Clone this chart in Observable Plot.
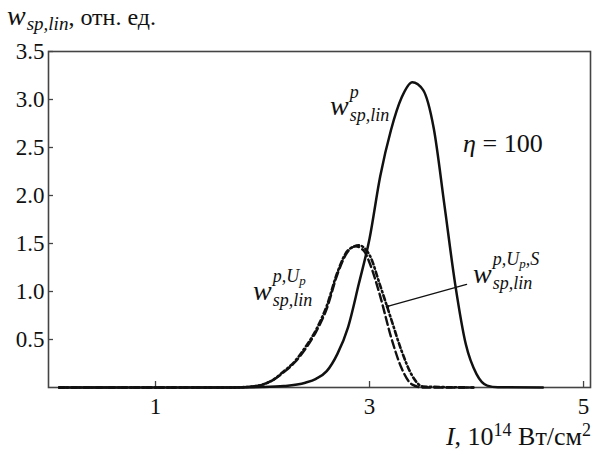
<!DOCTYPE html>
<html>
<head>
<meta charset="utf-8">
<script src="https://cdn.jsdelivr.net/npm/d3@7"></script>
<script src="https://cdn.jsdelivr.net/npm/@observablehq/plot@0.6"></script>
<style>
  html, body { margin: 0; padding: 0; background: #fff; }
  #chart svg { display: block; }
  #chart svg, #chart svg text, #chart svg tspan {
    font-family: "Liberation Serif", "Times New Roman", Tinos, "DejaVu Serif", "Noto Serif", FreeSerif, serif !important;
  }
</style>
</head>
<body>
<div id="chart"></div>
<script>
// Data (I in 10^14 W/cm^2, w in relative units)
const I_p   = [0.1, 1.5, 1.8, 2.0, 2.2, 2.4, 2.5, 2.6, 2.7, 2.8, 2.9, 3.0, 3.1, 3.2, 3.3, 3.4, 3.5, 3.6, 3.7, 3.8, 3.9, 4.0, 4.1, 4.2, 4.62];
const W_p   = [0, 0, 0.001, 0.004, 0.015, 0.05, 0.09, 0.17, 0.35, 0.63, 1.08, 1.55, 2.2, 2.68, 3.02, 3.18, 3.1, 2.7, 1.9, 1.08, 0.45, 0.14, 0.02, 0.003, 0];

const I_up  = [0.1, 1.7, 1.9, 2.0, 2.1, 2.2, 2.3, 2.4, 2.5, 2.6, 2.7, 2.8, 2.87, 2.95, 3.0, 3.1, 3.2, 3.3, 3.4, 3.5, 3.97];
const W_up  = [0, 0, 0.01, 0.03, 0.08, 0.16, 0.26, 0.4, 0.58, 0.82, 1.18, 1.42, 1.47, 1.42, 1.3, 0.95, 0.53, 0.2, 0.03, 0, 0];

const I_ups = [0.1, 1.7, 1.9, 2.0, 2.1, 2.2, 2.3, 2.4, 2.5, 2.6, 2.7, 2.8, 2.9, 3.0, 3.1, 3.2, 3.3, 3.4, 3.5, 3.97];
const W_ups = [0, 0, 0.01, 0.03, 0.08, 0.17, 0.27, 0.42, 0.6, 0.85, 1.2, 1.43, 1.48, 1.38, 1.06, 0.72, 0.38, 0.12, 0.01, 0];

const xTicks = [1, 3, 5];
const yTicks = [0.5, 1.0, 1.5, 2.0, 2.5, 3.0, 3.5];

// leader line for the w^{p,Up,S} label
const leaderI = [3.168, 3.907];
const leaderW = [0.844, 1.073];

const toRows = (xs, ys) => xs.map((x, i) => ({x, y: ys[i]}));
const solid = toRows(I_p, W_p);
const dashed = toRows(I_up, W_up);
const dotted = toRows(I_ups, W_ups);
const leader = toRows(leaderI, leaderW);

const FONT = "'Liberation Serif', 'Times New Roman', Tinos, 'DejaVu Serif', 'Noto Serif', FreeSerif, serif";

const plot = Plot.plot({
  width: 593,
  height: 457,
  marginLeft: 48,
  marginRight: 3,
  marginTop: 51,
  marginBottom: 70,
  style: {fontFamily: FONT, fontSize: "23px", color: "#111", background: "#fff"},
  x: {domain: [0, 5.065]},
  y: {domain: [0, 3.5]},
  marks: [
    Plot.axisX({ticks: xTicks, tickSize: 0, tickPadding: 10, tickFormat: d => String(d), label: null, fontSize: 23}),
    Plot.axisX({ticks: xTicks, tickSize: -6, text: null, label: null, stroke: "#444", strokeWidth: 1.3}),
    Plot.axisY({ticks: yTicks, tickSize: 0, tickPadding: 4, tickFormat: d3.format(".1f"), label: null, fontSize: 23}),
    Plot.axisY({ticks: yTicks, tickSize: -5, text: null, label: null, stroke: "#444", strokeWidth: 1.3}),
    Plot.frame({stroke: "#444", strokeWidth: 1.6}),
    Plot.line(dotted, {x: "x", y: "y", stroke: "#111", strokeWidth: 2.6, strokeDasharray: "5,3,1.5,3", curve: "monotone-x"}),
    Plot.line(dashed, {x: "x", y: "y", stroke: "#111", strokeWidth: 2.4, strokeDasharray: "8,4", curve: "monotone-x"}),
    Plot.line(solid, {x: "x", y: "y", stroke: "#111", strokeWidth: 2.5, curve: "monotone-x"}),
    Plot.line(leader, {x: "x", y: "y", stroke: "#111", strokeWidth: 1.3}),
    Plot.dot([leader[0]], {x: "x", y: "y", r: 1.8, fill: "#111"})
  ]
});

document.getElementById("chart").appendChild(plot);

// Math-style annotations positioned through the plot scales
const sx = plot.scale("x"), sy = plot.scale("y");
const svg = d3.select(plot);

function mathLabel(I, w, sup, sub, subDy, supBase = -17) {
  const px = sx.apply(I), py = sy.apply(w);
  const t = svg.append("text").attr("x", px).attr("y", py)
    .attr("text-anchor", "start").attr("font-family", FONT)
    .attr("fill", "#111").attr("font-style", "italic");
  const wt = t.append("tspan").attr("font-size", 28).text("w");
  const wWidth = wt.node().getComputedTextLength();
  const sx0 = px + wWidth + 1;
  let cur = 0;
  sup.forEach((part, i) => {
    const s = t.append("tspan");
    if (typeof part === "string") {
      const target = supBase;
      s.attr("font-size", 18).attr("dy", target - cur).text(part);
      cur = target;
    } else {
      const target = supBase + part.dy;
      s.attr("font-size", 13).attr("dy", target - cur).text(part.t);
      cur = target;
    }
    if (i === 0) s.attr("x", sx0);
  });
  t.append("tspan").attr("x", sx0).attr("font-size", 18).attr("dy", subDy - cur).text(sub);
}

mathLabel(2.636, 2.833, ["p"], "sp,lin", 6);
mathLabel(1.916, 0.906, ["p,U", {t: "p", dy: 3}], "sp,lin", 6, -18);
mathLabel(3.972, 1.083, ["p,U", {t: "p", dy: 3}, ",S"], "sp,lin", 6, -18);

// eta = 100
{
  const t = svg.append("text").attr("x", sx.apply(3.879)).attr("y", sy.apply(2.448))
    .attr("text-anchor", "start")
    .attr("font-family", FONT).attr("font-size", 26).attr("fill", "#111");
  t.append("tspan").attr("font-style", "italic").text("η");
  t.append("tspan").text(" = 100");
}

// y-axis title (top-left)
{
  const t = svg.append("text").attr("x", 7).attr("y", 25).attr("text-anchor", "start")
    .attr("font-family", FONT).attr("fill", "#111");
  t.append("tspan").attr("font-size", 28).attr("font-style", "italic").text("w");
  t.append("tspan").attr("font-size", 19).attr("font-style", "italic").attr("dy", 5).attr("dx", 1).text("sp,lin");
  t.append("tspan").attr("font-size", 24).attr("dy", -5).text(", отн. ед.");
}

// x-axis title (bottom-right)
{
  const t = svg.append("text").attr("x", 591).attr("y", 445).attr("text-anchor", "end")
    .attr("font-family", FONT).attr("font-size", 26).attr("fill", "#111");
  t.append("tspan").attr("font-style", "italic").text("I");
  t.append("tspan").text(", 10");
  t.append("tspan").attr("font-size", 18).attr("dy", -9).text("14");
  t.append("tspan").attr("dy", 9).text(" Вт/см");
  t.append("tspan").attr("font-size", 18).attr("dy", -9).text("2");
}
</script>
</body>
</html>
